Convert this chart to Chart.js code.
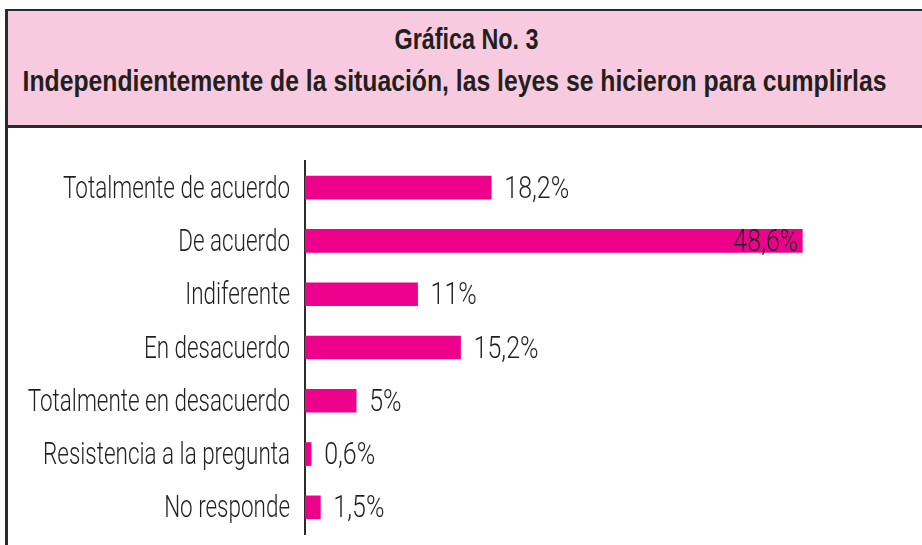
<!DOCTYPE html>
<html>
<head>
<meta charset="utf-8">
<script src="https://cdn.jsdelivr.net/npm/chart.js@4/dist/chart.umd.min.js"></script>
<style>
  html, body { margin: 0; padding: 0; background: #fff; }
  body { width: 922px; height: 545px; position: relative; overflow: hidden; }
  #frame {
    position: absolute; left: 5px; top: 9px; width: 930px; height: 560px;
    border-left: 3px solid #2b2b2b; border-top: 2px solid #2b2b2b; box-sizing: border-box;
  }
  #header {
    position: absolute; left: 8px; top: 11px; width: 914px; height: 114px;
    background: #f8cadf; border-bottom: 3px solid #2b2b2b;
  }
  .title {
    position: absolute; white-space: nowrap; line-height: 30px;
    font-family: "Liberation Sans", Arial, sans-serif; font-weight: bold; font-size: 30px;
    color: #231f20; transform-origin: center center;
  }
  #wrap { position: absolute; left: 0; top: 130px; width: 922px; height: 415px; }
</style>
</head>
<body>
<div id="frame"></div>
<div id="header"></div>
<div class="title" id="t1">Gráfica No. 3</div>
<div class="title" id="t2">Independientemente de la situación, las leyes se hicieron para cumplirlas</div>
<div id="wrap"><canvas id="chart"></canvas></div>
<script>
const categories = [
  'Totalmente de acuerdo',
  'De acuerdo',
  'Indiferente',
  'En desacuerdo',
  'Totalmente en desacuerdo',
  'Resistencia a la pregunta',
  'No responde'
];
const values = [18.2, 48.6, 11, 15.2, 5, 0.6, 1.5];
const valueLabels = ['18,2%', '48,6%', '11%', '15,2%', '5%', '0,6%', '1,5%'];

// condensed look: squeeze the title lines to the width they have in the original
function placeTitle(id, centerX, top, targetWidth) {
  const el = document.getElementById(id);
  const w = el.offsetWidth;
  const s = targetWidth / w;
  el.style.left = (centerX - w / 2) + 'px';
  el.style.top = top + 'px';
  el.style.transform = 'scaleX(' + s + ')';
}
placeTitle('t1', 466, 24, 144);
placeTitle('t2', 454, 66, 864);

const labelFont = '300 31px Roboto, "DejaVu Sans", sans-serif';
const textColor = '#231f20';

// category names and percentages, drawn narrow like the original typeface
const labelsPlugin = {
  id: 'narrowLabels',
  afterDatasetsDraw(chart) {
    const ctx = chart.ctx;
    const yScale = chart.scales.y;
    const meta = chart.getDatasetMeta(0);
    ctx.save();
    ctx.font = labelFont;
    ctx.fillStyle = textColor;
    ctx.textBaseline = 'alphabetic';
    const catSqueeze = 227 / ctx.measureText(categories[0]).width;
    const valSqueeze = 65 / ctx.measureText(valueLabels[0]).width;

    const drawText = (text, x, y, align, squeeze) => {
      const w = ctx.measureText(text).width * squeeze;
      const left = align === 'right' ? x - w : x;
      ctx.save();
      ctx.translate(left, y);
      ctx.scale(squeeze, 1);
      ctx.textAlign = 'left';
      ctx.fillText(text, 0, 0);
      ctx.restore();
    };

    categories.forEach((c, i) => {
      const y = yScale.getPixelForTick(i);
      drawText(c, yScale.right - 15, y + 10, 'right', catSqueeze);
    });

    meta.data.forEach((bar, i) => {
      if (values[i] > 40) {
        drawText(valueLabels[i], bar.x - 4, bar.y + 10, 'right', valSqueeze);
      } else {
        drawText(valueLabels[i], bar.x + 13, bar.y + 10, 'left', valSqueeze);
      }
    });
    ctx.restore();
  }
};

new Chart(document.getElementById('chart'), {
  type: 'bar',
  data: {
    labels: categories,
    datasets: [{
      data: values,
      backgroundColor: '#ec008c',
      borderWidth: 0,
      barThickness: 23
    }]
  },
  options: {
    indexAxis: 'y',
    responsive: true,
    maintainAspectRatio: false,
    animation: false,
    layout: { padding: { top: 31, bottom: 11, right: 3, left: 0 } },
    plugins: {
      legend: { display: false },
      tooltip: { enabled: false }
    },
    scales: {
      x: {
        display: false,
        min: 0,
        max: 60
      },
      y: {
        grid: { display: false, drawTicks: false },
        border: { display: true, color: '#2b2b2b', width: 2 },
        ticks: { display: false },
        afterFit(scale) {
          scale.width = 305;
          scale.paddingTop = 0;
          scale.paddingBottom = 0;
        }
      }
    }
  },
  plugins: [labelsPlugin]
});
</script>
</body>
</html>
